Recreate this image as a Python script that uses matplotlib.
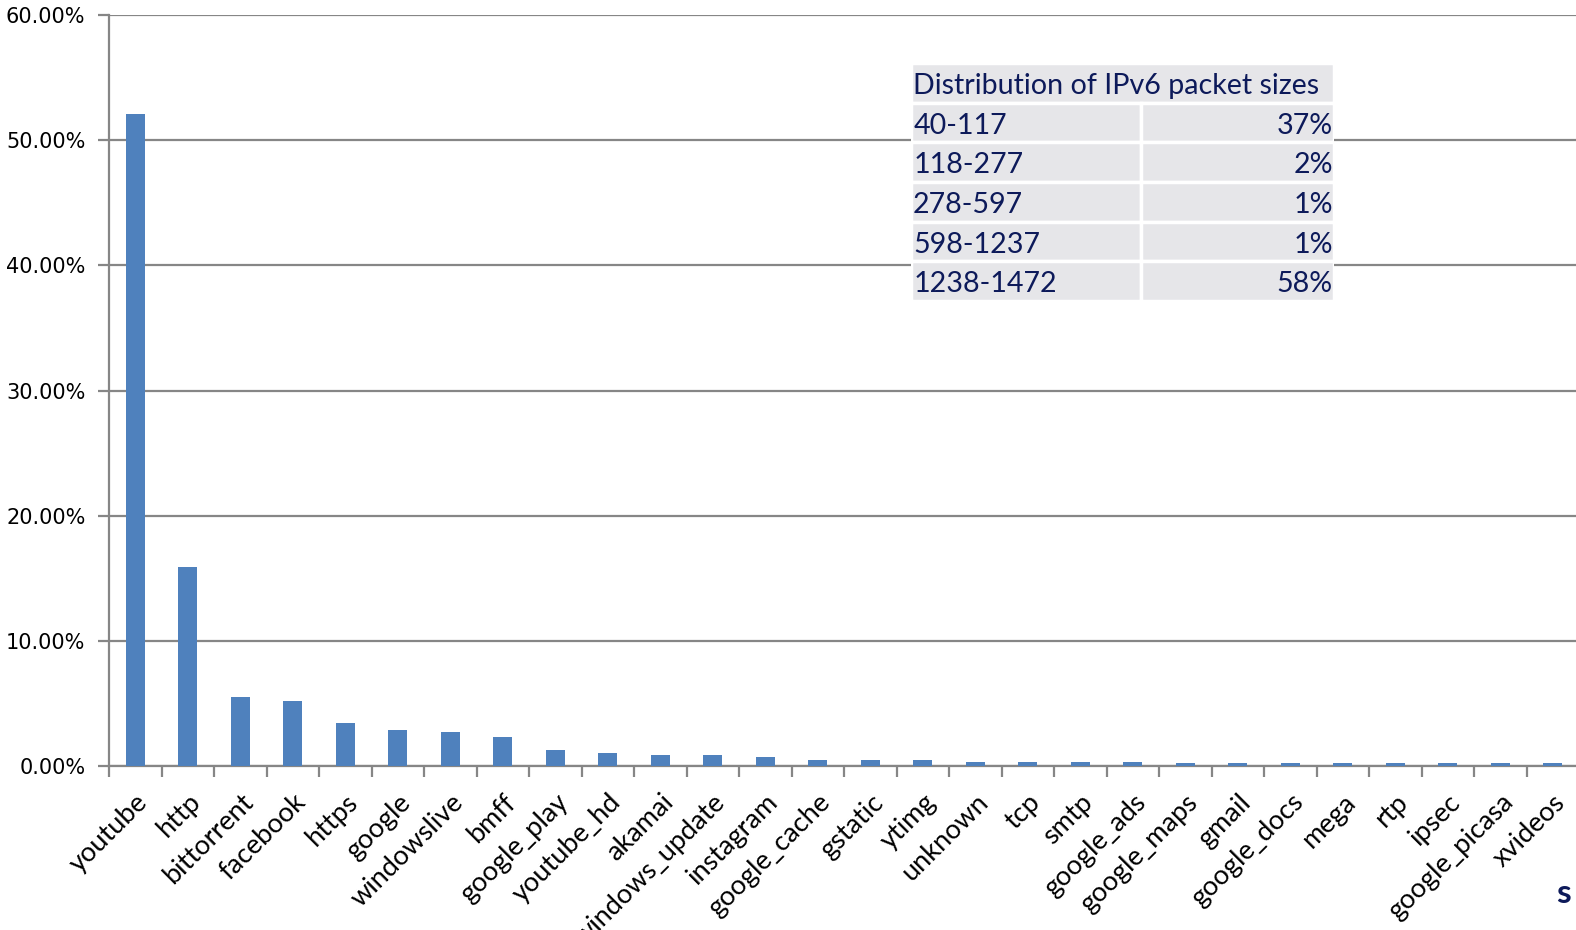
import numpy as np
import matplotlib.pyplot as plt
from matplotlib.patches import Rectangle

apps = ['youtube', 'http', 'bittorrent', 'facebook', 'https', 'google', 'windowslive',
        'bmff', 'google_play', 'youtube_hd', 'akamai', 'windows_update', 'instagram',
        'google_cache', 'gstatic', 'ytimg', 'unknown', 'tcp', 'smtp', 'google_ads',
        'google_maps', 'gmail', 'google_docs', 'mega', 'rtp', 'ipsec', 'google_picasa',
        'xvideos']
share = [52.1, 15.9, 5.5, 5.2, 3.4, 2.9, 2.7, 2.3, 1.3, 1.0, 0.85, 0.85, 0.7,
         0.5, 0.5, 0.5, 0.35, 0.35, 0.35, 0.35, 0.2, 0.2, 0.2, 0.2, 0.2, 0.2, 0.2, 0.2]

size_ranges = ['40-117', '118-277', '278-597', '598-1237', '1238-1472']
size_share = ['37%', '2%', '1%', '1%', '58%']
table_title = 'Distribution of IPv6 packet sizes'

W, H = 1576, 930
navy = '#0d1a5a'
grey = '#868686'

fig = plt.figure(figsize=(W/100, H/100), dpi=100)
ax = fig.add_axes([109/W, 1-766/H, (W-109)/W + 0.002, (766-15)/H])

x = np.arange(len(apps))
ax.bar(x, share, width=0.36, color='#4f81bd', zorder=3)
ax.set_xlim(-0.5, len(apps)-0.5)
ax.set_ylim(0, 60)
ax.set_yticks(np.arange(0, 61, 10))
ax.set_yticklabels(['%.2f%%' % v for v in np.arange(0, 61, 10)], fontsize=15,
                   family='DejaVu Sans')
ax.yaxis.grid(True, color=grey, linewidth=1.6, zorder=0)

ax.set_xticks(x)
ax.set_xticklabels(apps, rotation=45, ha='right', rotation_mode='anchor',
                   fontsize=19.5, family='Lato')
ax.tick_params(axis='x', length=0, pad=17)
ax.set_xticks(np.arange(-0.5, len(apps), 1), minor=True)
ax.tick_params(axis='x', which='minor', length=8, width=1.6, color=grey, direction='out')
ax.tick_params(axis='y', length=8, width=1.6, color=grey, pad=9)
for s in ['top', 'right']:
    ax.spines[s].set_visible(False)
for s in ['left', 'bottom']:
    ax.spines[s].set_color(grey)
    ax.spines[s].set_linewidth(1.6)

# inset table
tx0, tx1, ty0, ty1 = 911, 1334, 63, 301
tab = fig.add_axes([tx0/W, 1-ty1/H, (tx1-tx0)/W, (ty1-ty0)/H])
tab.set_xlim(0, 1)
tab.set_ylim(len(size_ranges)+1, 0)
tab.axis('off')
split = (1141-tx0)/(tx1-tx0)
cell = '#e6e6e9'
fs = 20.6
tab.add_patch(Rectangle((0, 0), 1, 1, facecolor=cell, edgecolor='white', linewidth=2.5))
tab.text(0.005, 0.58, table_title, fontsize=fs, color=navy, family='Lato',
         va='center', ha='left')
for i, (r, v) in enumerate(zip(size_ranges, size_share)):
    row = i + 1
    tab.add_patch(Rectangle((0, row), split, 1, facecolor=cell, edgecolor='white', linewidth=2.5))
    tab.add_patch(Rectangle((split, row), 1-split, 1, facecolor=cell, edgecolor='white', linewidth=2.5))
    tab.text(0.005, row+0.58, r, fontsize=fs, color=navy, family='Lato', va='center', ha='left')
    tab.text(0.997, row+0.58, v, fontsize=fs, color=navy, family='Lato', va='center', ha='right')

fig.text(1556/W, 1-893/H, 's', fontsize=24, fontweight='bold', color=navy,
         family='Lato', va='center', ha='left')

fig.savefig('out.png', dpi=100)
